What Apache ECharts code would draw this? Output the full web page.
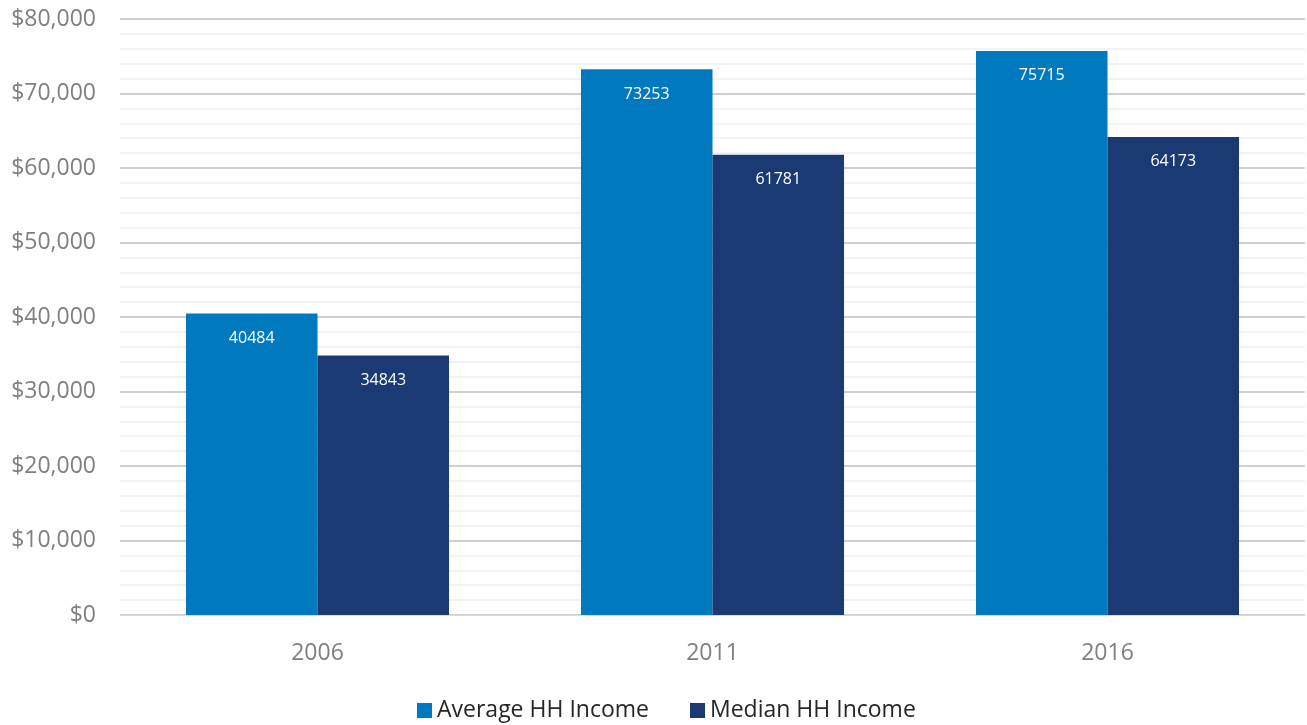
<!DOCTYPE html>
<html>
<head>
<meta charset="utf-8">
<script src="https://cdn.jsdelivr.net/npm/echarts@6/dist/echarts.min.js"></script>
<style>
  html, body { margin: 0; padding: 0; background: #fff; }
  #chart { width: 1307px; height: 725px; }
</style>
</head>
<body>
<div id="chart"></div>
<script>
// Household income by census year
const years = ['2006', '2011', '2016'];
const averageIncome = [40484, 73253, 75715];
const medianIncome = [34843, 61781, 64173];
const seriesNames = ['Average HH Income', 'Median HH Income'];

const FONT = '"Open Sans", Lato, sans-serif';

const chart = echarts.init(document.getElementById('chart'));

const barLabel = {
  show: true,
  position: 'insideTop',
  distance: 17,
  color: '#ffffff',
  fontSize: 16,
  fontFamily: FONT
};

chart.setOption({
  animation: false,
  color: ['#0079BE', '#1B3A74'],
  grid: { left: 120, right: 2, top: 19, bottom: 110 },
  legend: {
    bottom: -2,
    left: 412,
    itemWidth: 15,
    itemHeight: 15,
    itemGap: 41,
    icon: 'rect',
    textStyle: { fontSize: 23, color: '#262626', fontFamily: FONT },
    data: seriesNames
  },
  xAxis: {
    type: 'category',
    data: years,
    axisLine: { show: true, lineStyle: { color: '#D9D9D9', width: 1 } },
    axisTick: { show: false },
    axisLabel: { fontSize: 23, color: '#7F7F7F', fontFamily: FONT, margin: 27 }
  },
  yAxis: {
    type: 'value',
    min: 0,
    max: 80000,
    interval: 10000,
    axisLine: { show: false },
    axisTick: { show: false },
    axisLabel: {
      fontSize: 23,
      color: '#7F7F7F',
      fontFamily: FONT,
      margin: 24,
      formatter: v => '$' + v.toLocaleString('en-US')
    },
    splitLine: { lineStyle: { color: '#BFBFBF', width: 1.5 } },
    minorTick: { show: false, splitNumber: 5 },
    minorSplitLine: { show: true, lineStyle: { color: '#F0F0F0', width: 1.5 } }
  },
  series: [
    {
      name: seriesNames[0],
      type: 'bar',
      data: averageIncome,
      barGap: '0%',
      barCategoryGap: '33.4%',
      label: barLabel
    },
    {
      name: seriesNames[1],
      type: 'bar',
      data: medianIncome,
      barGap: '0%',
      barCategoryGap: '33.4%',
      label: barLabel
    }
  ]
});
</script>
</body>
</html>
